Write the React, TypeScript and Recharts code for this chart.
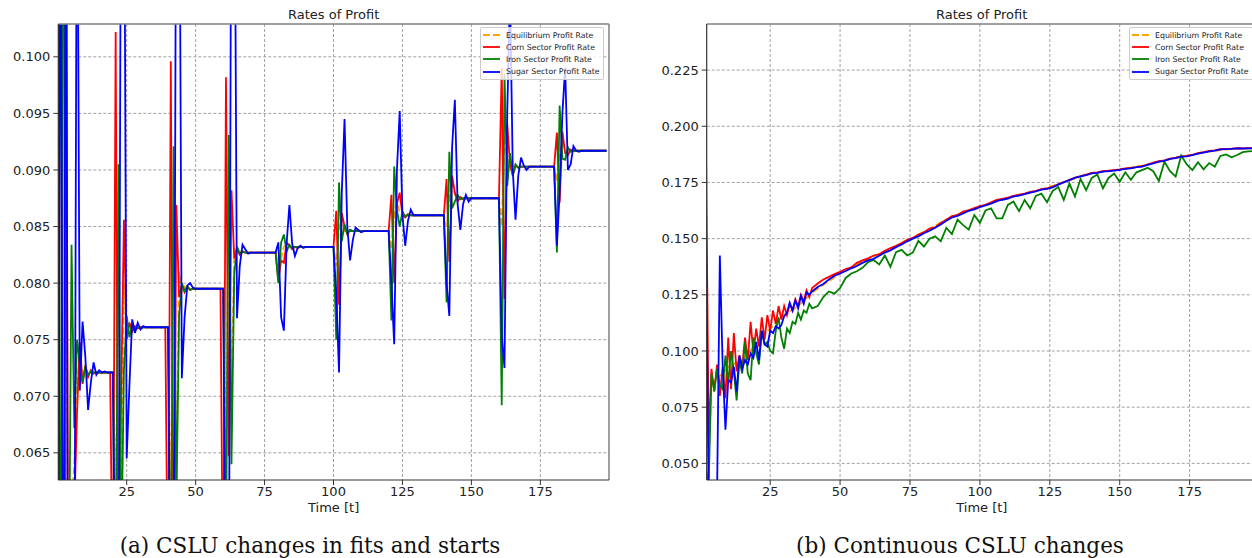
import { LineChart, Line, XAxis, YAxis, CartesianGrid, Legend, ReferenceLine } from 'recharts';

const FONT = "'DejaVu Sans', sans-serif";

// ---- (a) CSLU changes in fits and starts ----
const tA = [
  0, 1, 2, 3, 4, 5, 6, 7, 8, 9, 10, 11, 12, 13, 14, 15, 16, 17, 18, 19,
  20, 21, 22, 23, 24, 25, 26, 27, 28, 29, 30, 31, 32, 39,
  40, 41, 42, 43, 44, 45, 46, 47, 48, 49, 50, 59,
  60, 61, 62, 63, 64, 65, 66, 67, 68, 69, 70, 79,
  80, 81, 82, 83, 84, 85, 86, 87, 88, 89, 90, 99,
  100, 101, 102, 103, 104, 105, 106, 107, 108, 109, 110, 111, 119,
  120, 121, 122, 123, 124, 125, 126, 127, 128, 129, 130, 139,
  140, 141, 142, 143, 144, 145, 146, 147, 148, 149, 150, 159,
  160, 161, 162, 163, 164, 165, 166, 167, 168, 169, 170, 171, 179,
  180, 181, 182, 183, 184, 185, 186, 187, 188, 189, 190, 199,
];

const eqA = [
  0.100, 0.140, 0.020, 0.090, 0.040, 0.060, 0.064, 0.0712, 0.0735, 0.0718, 0.0724, 0.0720, 0.0721, 0.0721, 0.0721, 0.0721, 0.0721, 0.0721, 0.0721, 0.0721,
  0.0721, 0.060, 0.082, 0.058, 0.080, 0.0755, 0.0764, 0.0758, 0.0761, 0.0760, 0.0761, 0.0761, 0.0761, 0.0761,
  0.0761, 0.060, 0.084, 0.062, 0.081, 0.0792, 0.0797, 0.0795, 0.0795, 0.0795, 0.0795, 0.0795,
  0.0795, 0.065, 0.0861, 0.070, 0.0830, 0.0826, 0.0828, 0.0827, 0.0827, 0.0827, 0.0827, 0.0827,
  0.0815, 0.0822, 0.0832, 0.0834, 0.0832, 0.0832, 0.0832, 0.0832, 0.0832, 0.0832, 0.0832, 0.0832,
  0.0832, 0.0815, 0.0848, 0.0858, 0.0846, 0.0846, 0.0846, 0.0846, 0.0846, 0.0846, 0.0846, 0.0846, 0.0846,
  0.0846, 0.0830, 0.0860, 0.0872, 0.0862, 0.0860, 0.0860, 0.0860, 0.0860, 0.0860, 0.0860, 0.0860,
  0.0860, 0.0850, 0.0875, 0.0890, 0.0878, 0.0875, 0.0875, 0.0875, 0.0875, 0.0875, 0.0875, 0.0875,
  0.0875, 0.0850, 0.0930, 0.0910, 0.0903, 0.0903, 0.0903, 0.0903, 0.0903, 0.0903, 0.0903, 0.0903, 0.0903,
  0.0903, 0.0890, 0.0915, 0.0925, 0.0918, 0.0917, 0.0917, 0.0917, 0.0917, 0.0917, 0.0917, 0.0917,
];

const cornA = [
  0.040, 0.150, 0.000, 0.120, 0.030, 0.050, 0.060, 0.0686, 0.0748, 0.0711, 0.0727, 0.0717, 0.0723, 0.0720, 0.0721, 0.0721, 0.0721, 0.0721, 0.0721, 0.0721,
  0.050, 0.1022, 0.050, 0.070, 0.0856, 0.0750, 0.0765, 0.0757, 0.0762, 0.0760, 0.0761, 0.0761, 0.0761, 0.0761,
  0.050, 0.0996, 0.050, 0.0869, 0.0788, 0.0798, 0.0792, 0.0797, 0.0794, 0.0795, 0.0795, 0.0795,
  0.050, 0.0982, 0.0647, 0.0882, 0.0822, 0.0830, 0.0825, 0.0828, 0.0827, 0.0827, 0.0827, 0.0827,
  0.0802, 0.0820, 0.0818, 0.0836, 0.0833, 0.0830, 0.0832, 0.0831, 0.0832, 0.0832, 0.0832, 0.0832,
  0.0832, 0.0864, 0.0781, 0.0862, 0.0850, 0.0843, 0.0847, 0.0846, 0.0846, 0.0846, 0.0846, 0.0846, 0.0846,
  0.0846, 0.0878, 0.0800, 0.0870, 0.0880, 0.0860, 0.0858, 0.0861, 0.0860, 0.0860, 0.0860, 0.0860,
  0.0860, 0.0892, 0.0819, 0.0895, 0.0880, 0.0872, 0.0876, 0.0874, 0.0875, 0.0875, 0.0875, 0.0875,
  0.0875, 0.0990, 0.0786, 0.0941, 0.0905, 0.0895, 0.0904, 0.0902, 0.0903, 0.0903, 0.0903, 0.0903, 0.0903,
  0.0903, 0.0933, 0.0871, 0.0934, 0.0915, 0.0913, 0.0918, 0.0917, 0.0917, 0.0917, 0.0917, 0.0917,
];

const ironA = [
  0.140, 0.030, 0.140, 0.020, 0.050, 0.0834, 0.0672, 0.0750, 0.0730, 0.0712, 0.0726, 0.0719, 0.0722, 0.0721, 0.0721, 0.0721, 0.0721, 0.0721, 0.0721, 0.0721,
  0.0721, 0.050, 0.0905, 0.055, 0.0723, 0.0771, 0.0752, 0.0764, 0.0758, 0.0761, 0.0760, 0.0761, 0.0761, 0.0761,
  0.0761, 0.050, 0.0921, 0.060, 0.0771, 0.0800, 0.0793, 0.0797, 0.0794, 0.0795, 0.0795, 0.0795,
  0.0795, 0.055, 0.0931, 0.0640, 0.0808, 0.0832, 0.0826, 0.0828, 0.0827, 0.0827, 0.0827, 0.0827,
  0.0800, 0.0836, 0.0843, 0.0828, 0.0834, 0.0831, 0.0832, 0.0832, 0.0832, 0.0832, 0.0832, 0.0832,
  0.0832, 0.0750, 0.0889, 0.0837, 0.0852, 0.0844, 0.0847, 0.0846, 0.0846, 0.0846, 0.0846, 0.0846, 0.0846,
  0.0846, 0.0767, 0.0903, 0.0865, 0.0850, 0.0863, 0.0859, 0.0860, 0.0860, 0.0860, 0.0860, 0.0860,
  0.0860, 0.0783, 0.0916, 0.0866, 0.0872, 0.0878, 0.0874, 0.0875, 0.0875, 0.0875, 0.0875, 0.0875,
  0.0875, 0.0692, 0.0985, 0.0886, 0.0915, 0.0895, 0.0905, 0.0902, 0.0903, 0.0903, 0.0903, 0.0903, 0.0903,
  0.0903, 0.0827, 0.0957, 0.0910, 0.0909, 0.0920, 0.0916, 0.0917, 0.0917, 0.0917, 0.0917, 0.0917,
];

const sugarA = [
  0.020, 0.130, 0.030, 0.130, 0.000, 0.030, 0.045, 0.125, 0.0705, 0.0766, 0.0735, 0.0688, 0.0712, 0.0730, 0.0719, 0.0723, 0.0721, 0.0722, 0.0721, 0.0721,
  0.0721, 0.045, 0.045, 0.125, 0.125, 0.0645, 0.0710, 0.0768, 0.0756, 0.0765, 0.0759, 0.0762, 0.0761, 0.0761,
  0.0761, 0.045, 0.045, 0.125, 0.125, 0.0716, 0.0770, 0.0798, 0.0800, 0.0796, 0.0795, 0.0795,
  0.0795, 0.045, 0.045, 0.125, 0.125, 0.0769, 0.0815, 0.0834, 0.0830, 0.0826, 0.0827, 0.0827,
  0.0836, 0.0770, 0.0758, 0.0835, 0.0869, 0.0835, 0.0824, 0.0831, 0.0833, 0.0831, 0.0832, 0.0832,
  0.0832, 0.0790, 0.0721, 0.0880, 0.0945, 0.0850, 0.0820, 0.0838, 0.0849, 0.0847, 0.0845, 0.0846, 0.0846,
  0.0846, 0.0800, 0.0746, 0.0900, 0.0952, 0.0860, 0.0833, 0.0855, 0.0865, 0.0860, 0.0860, 0.0860,
  0.0860, 0.0800, 0.0771, 0.0920, 0.0962, 0.0870, 0.0847, 0.0870, 0.0878, 0.0872, 0.0875, 0.0875,
  0.0875, 0.0753, 0.0725, 0.0950, 0.1060, 0.0900, 0.0856, 0.0895, 0.0911, 0.0904, 0.0900, 0.0903, 0.0903,
  0.0903, 0.0833, 0.0880, 0.0950, 0.0990, 0.0900, 0.0905, 0.0921, 0.0917, 0.0916, 0.0917, 0.0917,
];

// ---- (b) Continuous CSLU changes ----
const tB = [
  2, 3, 4, 5, 6, 7, 8, 9, 10, 11, 12, 13, 14, 15, 16, 17, 18, 19, 20, 21,
  22, 23, 24, 25, 26, 27, 28, 29, 30, 31, 32, 33, 34, 35, 36, 37, 38, 39, 40,
  42, 44, 46, 48, 50, 52, 54, 56, 58, 60, 62, 64, 66, 68, 70, 72, 74, 76, 78, 80,
  82, 84, 86, 88, 90, 92, 94, 96, 98, 100, 102, 104, 106, 108, 110, 112, 114, 116, 118, 120,
  122, 124, 126, 128, 130, 132, 134, 136, 138, 140, 142, 144, 146, 148, 150, 152, 154, 156, 158, 160,
  162, 164, 166, 168, 170, 172, 174, 176, 178, 180, 182, 184, 186, 188, 190, 192, 194, 196, 198, 199,
];

const cornB = [
  0.197, 0.060, 0.092, 0.082, 0.094, 0.080, 0.093, 0.079, 0.106, 0.083, 0.108, 0.091, 0.098, 0.093, 0.106, 0.096, 0.113, 0.099, 0.110, 0.102,
  0.115, 0.105, 0.116, 0.109, 0.118, 0.112, 0.120, 0.114, 0.120, 0.116, 0.121, 0.118, 0.123, 0.120, 0.125, 0.122, 0.127, 0.124, 0.128,
  0.1300, 0.1318, 0.1330, 0.1342, 0.1352, 0.1365, 0.1372, 0.1392, 0.1403, 0.1412, 0.1425, 0.1430, 0.1446, 0.1458, 0.1468, 0.1480, 0.1495, 0.1503, 0.1518, 0.1528,
  0.1545, 0.1550, 0.1570, 0.1584, 0.1600, 0.1605, 0.1620, 0.1627, 0.1636, 0.1645, 0.1650, 0.1662, 0.1672, 0.1677, 0.1682, 0.1690, 0.1696, 0.1700, 0.1708, 0.1713,
  0.1720, 0.1723, 0.1731, 0.1742, 0.1752, 0.1762, 0.1772, 0.1778, 0.1785, 0.1792, 0.1795, 0.1800, 0.1802, 0.1805, 0.1808, 0.1812, 0.1815, 0.1818, 0.1822, 0.1830,
  0.1838, 0.1845, 0.1848, 0.1856, 0.1860, 0.1866, 0.1868, 0.1873, 0.1880, 0.1885, 0.1890, 0.1893, 0.1898, 0.1899, 0.1900, 0.1903, 0.1901, 0.1903, 0.1903, 0.1903,
];

const ironB = [
  0.048, 0.040, 0.090, 0.082, 0.092, 0.085, 0.083, 0.098, 0.086, 0.100, 0.091, 0.078, 0.096, 0.090, 0.104, 0.090, 0.087, 0.106, 0.099, 0.094,
  0.109, 0.103, 0.104, 0.100, 0.099, 0.109, 0.115, 0.106, 0.101, 0.110, 0.108, 0.113, 0.112, 0.117, 0.114, 0.118, 0.117, 0.121, 0.119,
  0.1200, 0.1240, 0.1265, 0.1255, 0.1280, 0.1325, 0.1345, 0.1355, 0.1370, 0.1395, 0.1405, 0.1385, 0.1425, 0.1375, 0.1440, 0.1450, 0.1425, 0.1438, 0.1490, 0.1465,
  0.1500, 0.1510, 0.1488, 0.1548, 0.1520, 0.1585, 0.1560, 0.1540, 0.1605, 0.1570, 0.1625, 0.1635, 0.1590, 0.1590, 0.1650, 0.1665, 0.1622, 0.1672, 0.1635, 0.1690,
  0.1700, 0.1662, 0.1712, 0.1730, 0.1672, 0.1745, 0.1688, 0.1765, 0.1716, 0.1770, 0.1785, 0.1724, 0.1770, 0.1790, 0.1753, 0.1795, 0.1762, 0.1795, 0.1805, 0.1815,
  0.1800, 0.1757, 0.1842, 0.1800, 0.1776, 0.1870, 0.1830, 0.1805, 0.1840, 0.1808, 0.1836, 0.1820, 0.1868, 0.1875, 0.1862, 0.1872, 0.1885, 0.1888, 0.1890, 0.1890,
];

const sugarB = [
  0.160, 0.035, 0.035, 0.040, 0.035, 0.1425, 0.094, 0.065, 0.087, 0.086, 0.093, 0.082, 0.098, 0.092, 0.096, 0.094, 0.099, 0.097, 0.104, 0.096,
  0.109, 0.103, 0.102, 0.109, 0.108, 0.111, 0.110, 0.1115, 0.1155, 0.117, 0.1215, 0.118, 0.1225, 0.119, 0.1245, 0.121, 0.126, 0.125, 0.1265,
  0.1285, 0.1298, 0.1318, 0.1335, 0.1345, 0.1356, 0.1368, 0.1378, 0.1392, 0.1403, 0.1410, 0.1424, 0.1438, 0.1448, 0.1462, 0.1474, 0.1488, 0.1500, 0.1510, 0.1524,
  0.1535, 0.1548, 0.1563, 0.1580, 0.1594, 0.1601, 0.1612, 0.1624, 0.1630, 0.1640, 0.1648, 0.1656, 0.1667, 0.1673, 0.1678, 0.1688, 0.1691, 0.1698, 0.1705, 0.1710,
  0.1718, 0.1721, 0.1728, 0.1740, 0.1750, 0.1760, 0.1770, 0.1777, 0.1782, 0.1790, 0.1793, 0.1798, 0.1800, 0.1803, 0.1806, 0.1810, 0.1813, 0.1818, 0.1820, 0.1828,
  0.1835, 0.1843, 0.1846, 0.1855, 0.1858, 0.1865, 0.1866, 0.1872, 0.1878, 0.1883, 0.1888, 0.1892, 0.1897, 0.1898, 0.1899, 0.1902, 0.1901, 0.1902, 0.1902, 0.1902,
];

// equilibrium rate in (b) is mostly hidden under the sector lines
const eqTB = [2, 3, 4, 6, 8, 10, 15, 20, 25, 30, 35, 40, 50, 60, 70, 80, 90, 100, 110, 120, 130, 140, 150, 160, 170, 180, 190, 199];
const eqB = [
  0.100, 0.050, 0.085, 0.088, 0.090, 0.093, 0.096, 0.103, 0.110, 0.116, 0.120, 0.126,
  0.1345, 0.141, 0.1465, 0.153, 0.1598, 0.1642, 0.168, 0.1711, 0.1751, 0.1791, 0.1807, 0.1829, 0.1859, 0.1884, 0.1899, 0.1902,
];

const xTicks = [25, 50, 75, 100, 125, 150, 175];
const yTicksA = [0.065, 0.07, 0.075, 0.08, 0.085, 0.09, 0.095, 0.1];
const yTicksB = [0.05, 0.075, 0.1, 0.125, 0.15, 0.175, 0.2, 0.225];

const SERIES = [
  { key: 'eq', name: 'Equilibrium Profit Rate', color: '#ffa500', dash: '7 3' },
  { key: 'corn', name: 'Corn Sector Profit Rate', color: '#ff0000' },
  { key: 'iron', name: 'Iron Sector Profit Rate', color: '#008000' },
  { key: 'sugar', name: 'Sugar Sector Profit Rate', color: '#0000ff' },
];

const rowsA = tA.map((t, i) => ({ t, eq: eqA[i], corn: cornA[i], iron: ironA[i], sugar: sugarA[i] }));
const rowsB = tB.map((t, i) => ({ t, corn: cornB[i], iron: ironB[i], sugar: sugarB[i] }));
const eqRowsB = eqTB.map((t, i) => ({ t, eq: eqB[i] }));

function LegendBox() {
  return (
    <div
      style={{
        background: 'rgba(255,255,255,0.8)',
        border: '1px solid #cccccc',
        borderRadius: 2,
        padding: '1px 0',
        fontFamily: FONT,
        fontSize: 7.8,
        color: '#222',
        boxSizing: 'border-box',
      }}
    >
      {SERIES.map((s) => (
        <div key={s.key} style={{ display: 'flex', alignItems: 'center', height: 12.2 }}>
          <svg width={25} height={12} style={{ flex: 'none' }}>
            <line x1={2} x2={19} y1={6} y2={6} stroke={s.color} strokeWidth={1.8} strokeDasharray={s.dash} />
          </svg>
          <span style={{ whiteSpace: 'nowrap' }}>{s.name}</span>
        </div>
      ))}
    </div>
  );
}

interface ChartProps {
  rows: any[];
  eqRows?: any[];
  width: number;
  yWidth: number;
  rightMargin: number;
  xDomain: [number, number];
  yDomain: [number, number];
  yTicks: number[];
  legendLeft: number;
}

function RatesChart({ rows, eqRows, width, yWidth, rightMargin, xDomain, yDomain, yTicks, legendLeft }: ChartProps) {
  const tickStyle = { fontSize: 13, fill: '#222', fontFamily: FONT };
  return (
    <LineChart width={width} height={520} data={rows} margin={{ top: 24, right: rightMargin, bottom: 4, left: 0 }}>
      <CartesianGrid stroke="#a0a0a0" strokeDasharray="3 2" syncWithTicks />
      <XAxis
        type="number"
        dataKey="t"
        domain={xDomain}
        allowDataOverflow
        ticks={xTicks}
        height={36}
        tickSize={5}
        tickMargin={2}
        axisLine={{ stroke: '#333', strokeWidth: 1.2 }}
        tickLine={{ stroke: '#333' }}
        tick={tickStyle}
        label={{ value: 'Time [t]', position: 'insideBottom', offset: 4, fontSize: 13, fill: '#222', fontFamily: FONT }}
      />
      <YAxis
        type="number"
        domain={yDomain}
        allowDataOverflow
        ticks={yTicks}
        width={yWidth}
        tickSize={5}
        tickMargin={3}
        tickFormatter={(v: number) => v.toFixed(3)}
        axisLine={{ stroke: '#333', strokeWidth: 1.2 }}
        tickLine={{ stroke: '#333' }}
        tick={tickStyle}
      />
      <Legend
        layout="vertical"
        align="center"
        verticalAlign="middle"
        wrapperStyle={{ left: legendLeft, top: 27, width: 124, height: 'auto' }}
        content={() => <LegendBox />}
      />
      {SERIES.map((s) => (
        <Line
          key={s.key}
          data={s.key === 'eq' && eqRows ? eqRows : undefined}
          type="linear"
          dataKey={s.key}
          name={s.name}
          stroke={s.color}
          strokeWidth={1.8}
          strokeDasharray={s.dash}
          dot={false}
          activeDot={false}
          isAnimationActive={false}
        />
      ))}
      {/* top and right spines */}
      <ReferenceLine y={yDomain[1]} stroke="#808080" strokeWidth={1.5} ifOverflow="visible" />
      <ReferenceLine x={xDomain[1]} stroke="#808080" strokeWidth={1.5} ifOverflow="visible" />
    </LineChart>
  );
}

const titleStyle = {
  position: 'absolute' as const,
  top: 7,
  textAlign: 'center' as const,
  fontFamily: FONT,
  fontSize: 13,
  lineHeight: '15px',
  color: '#222',
};

const captionStyle = {
  position: 'absolute' as const,
  top: 531,
  textAlign: 'center' as const,
  fontFamily: "'DejaVu Serif', serif",
  fontSize: 21.5,
  lineHeight: '30px',
  color: '#111',
};

export default function App() {
  return (
    <div style={{ position: 'absolute', left: 0, top: 0, width: 1252, height: 558, overflow: 'hidden', background: '#fff' }}>
      <div style={{ position: 'absolute', left: 0, top: 0 }}>
        <RatesChart
          rows={rowsA}
          width={620}
          yWidth={58.3}
          rightMargin={11}
          xDomain={[0.2, 199.9]}
          yDomain={[0.0626, 0.1029]}
          yTicks={yTicksA}
          legendLeft={480}
        />
      </div>
      <div style={{ ...titleStyle, left: 58.3, width: 550.7 }}>Rates of Profit</div>
      <div style={{ position: 'absolute', left: 640, top: 0 }}>
        <RatesChart
          rows={rowsB}
          eqRows={eqRowsB}
          width={617}
          yWidth={66.7}
          rightMargin={0}
          xDomain={[2.3, 199.1]}
          yDomain={[0.0426, 0.2455]}
          yTicks={yTicksB}
          legendLeft={489}
        />
      </div>
      <div style={{ ...titleStyle, left: 706.7, width: 550 }}>Rates of Profit</div>
      <div style={{ ...captionStyle, left: 0, width: 620 }}>(a) CSLU changes in fits and starts</div>
      <div style={{ ...captionStyle, left: 700, width: 520 }}>(b) Continuous CSLU changes</div>
    </div>
  );
}
